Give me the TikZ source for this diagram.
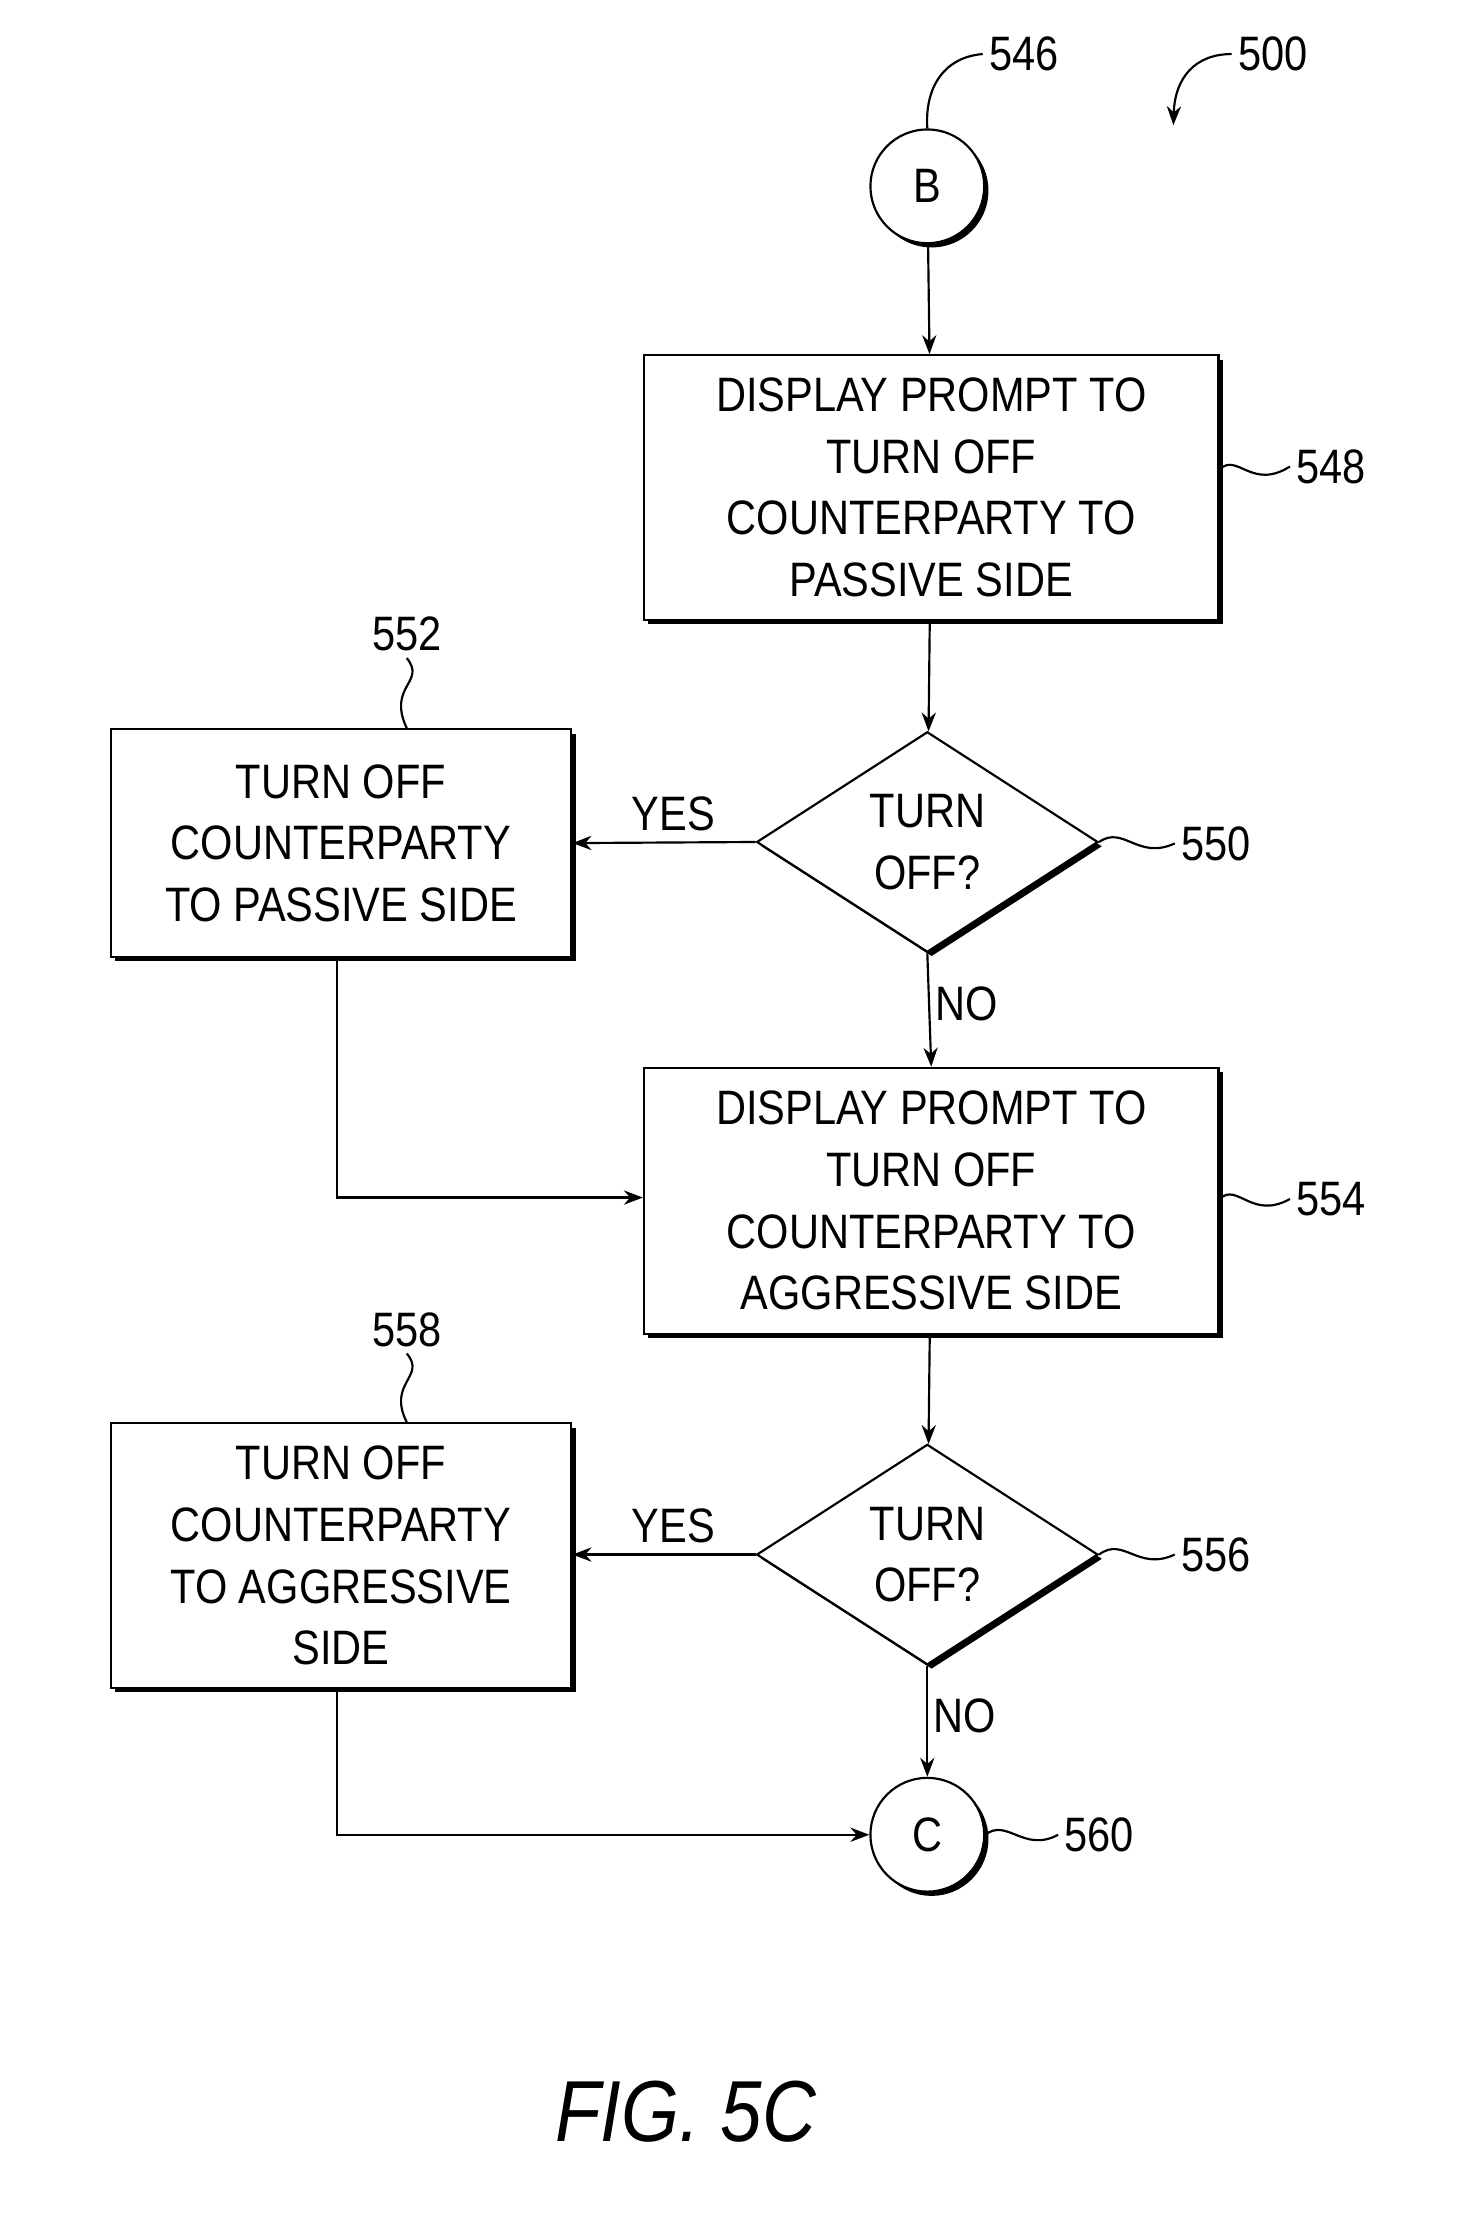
\documentclass[tikz,border=0pt]{standalone}
\usepackage{fontspec}
\setmainfont{Liberation Sans}[FakeStretch=0.86]
\usetikzlibrary{shapes.geometric,arrows.meta,shadows}
\begin{document}
\begin{tikzpicture}[x=0.3mm,y=-0.3mm,line width=1.3pt,
  every node/.style={font=\fontsize{29}{37}\selectfont},
  sh/.style={drop shadow={shadow xshift=0.9mm,shadow yshift=-0.9mm,fill=black,opacity=1}},
  box/.style={draw,fill=white,sh,align=center,inner sep=0pt,anchor=north west},
  dia/.style={draw,fill=white,sh,diamond,aspect=1.55,minimum width=240*0.3mm,minimum height=155*0.3mm,inner sep=0pt,align=center},
  circ/.style={draw,fill=white,sh,circle,minimum size=80*0.3mm,inner sep=0pt},
  arr/.style={-{Stealth[length=4mm,width=3mm]}},
  lbl/.style={font=\fontsize{29}{37}\selectfont}]
\useasboundingbox (0,0) rectangle (1024,1563);
\node[circ] (B) at (652,131) {B};
\node[box,minimum width=404*0.3mm,minimum height=186*0.3mm] (b548) at (452,249) {DISPLAY PROMPT TO\\TURN OFF\\COUNTERPARTY TO\\PASSIVE SIDE};
\node[dia] (d550) at (652,592) {TURN\\OFF?};
\node[box,minimum width=324*0.3mm,minimum height=160*0.3mm] (b552) at (77,512) {TURN OFF\\COUNTERPARTY\\TO PASSIVE SIDE};
\node[box,minimum width=404*0.3mm,minimum height=187*0.3mm] (b554) at (452,750) {DISPLAY PROMPT TO\\TURN OFF\\COUNTERPARTY TO\\AGGRESSIVE SIDE};
\node[dia] (d556) at (652,1093) {TURN\\OFF?};
\node[box,minimum width=324*0.3mm,minimum height=186*0.3mm] (b558) at (77,1000) {TURN OFF\\COUNTERPARTY\\TO AGGRESSIVE\\SIDE};
\node[circ] (C) at (652,1290) {C};

\draw[arr] (B) -- (b548);
\draw[arr] (b548) -- (d550);
\draw[arr] (d550.west) -- node[above,pos=0.45,yshift=1mm]{YES} (b552.east);
\draw[arr] (d550.south) -- node[right,pos=0.45]{NO} (b554.north);
\coordinate (k1) at (237,842);
\draw[arr] (b552.south -| k1) -- (k1) -- (b554.west |- k1);
\draw[arr] (b554) -- (d556);
\draw[arr] (d556.west) -- node[above,pos=0.45,yshift=1mm]{YES} (b558.east |- d556.west);
\draw[arr] (d556.south) -- node[right,pos=0.45]{NO} (C.north);
\coordinate (k2) at (237,1290);
\draw[arr] (b558.south -| k2) -- (k2) -- (C.west);

% reference labels
\node[lbl] (l546) at (720,38) {546};
\draw (B.north) .. controls (650,60) and (665,40) .. (l546.west);
\node[lbl] (l500) at (895,38) {500};
\draw[arr] (l500.west) .. controls (840,38) and (826,55) .. (825,88);
\node[lbl] (l548) at (936,328) {548};
\draw (b548.east |- 0,330) .. controls (870,318) and (880,345) .. (l548.west);
\node[lbl] (l550) at (855,593) {550};
\draw (d550.east) .. controls (790,580) and (800,605) .. (l550.west);
\node[lbl] (l552) at (286,446) {552};
\draw (l552.south) .. controls (300,480) and (272,482) .. (b552.north -| l552);
\node[lbl] (l554) at (936,843) {554};
\draw (b554.east |- 0,843) .. controls (870,831) and (880,858) .. (l554.west);
\node[lbl] (l556) at (855,1093) {556};
\draw (d556.east) .. controls (790,1080) and (800,1105) .. (l556.west);
\node[lbl] (l558) at (286,935) {558};
\draw (l558.south) .. controls (300,968) and (272,972) .. (b558.north -| l558);
\node[lbl] (l560) at (773,1290) {560};
\draw (C.east) .. controls (708,1278) and (720,1303) .. (l560.west);

\node[font=\fontsize{52}{60}\selectfont\itshape] (fig) at (482,1485) {FIG. 5C};
\end{tikzpicture}
\end{document}
